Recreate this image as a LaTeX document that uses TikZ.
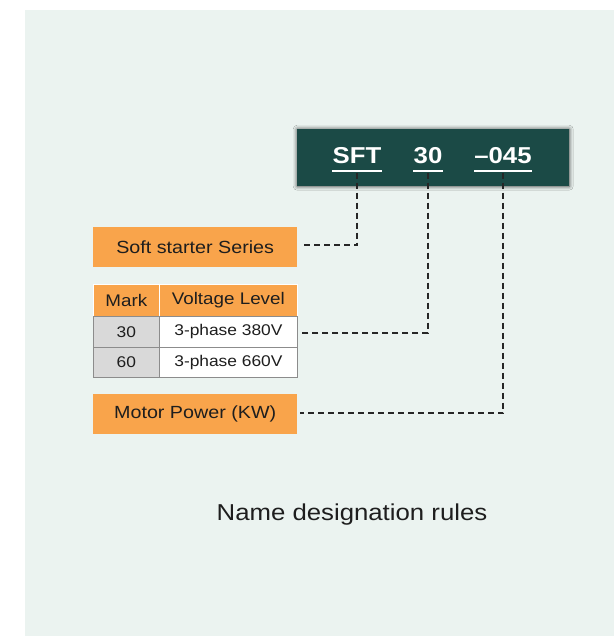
\documentclass[tikz,border=0pt]{standalone}
\usepackage{fontspec}
\setmainfont{Liberation Sans}[FakeStretch=1.12]
\usetikzlibrary{shadows.blur}
\definecolor{bg}{HTML}{EBF3F0}
\definecolor{darkteal}{HTML}{1B4A46}
\definecolor{orng}{HTML}{F9A44B}
\definecolor{cellgray}{HTML}{D9D9D9}
\definecolor{txt}{HTML}{1E1E1E}
\definecolor{gridc}{HTML}{8C8C8C}
\begin{document}
\begin{tikzpicture}[x=1pt,y=-1pt,
  orangebox/.style={fill=orng, minimum width=204pt, minimum height=40pt, inner sep=0pt, anchor=north west, text=txt, font=\fontsize{17.6}{20}\selectfont},
  headcell/.style={fill=orng, draw=white, line width=0.6pt, inner sep=0pt, anchor=north west, text=txt, font=\fontsize{16.8}{19}\selectfont},
  graycell/.style={fill=cellgray, draw=gridc, line width=0.8pt, inner sep=0pt, anchor=north west, text=txt, font=\fontsize{15.5}{18}\selectfont},
  whitecell/.style={fill=white, draw=gridc, line width=0.8pt, inner sep=0pt, anchor=north west, text=txt, font=\fontsize{15.5}{18}\selectfont},
  codetext/.style={text=white, font=\bfseries\fontsize{23}{26}\selectfont, inner sep=0pt, anchor=base},
  uline/.style={draw=white, line width=2pt},
  conn/.style={draw=black!85, line width=1.7pt, dash pattern=on 6pt off 4pt}
]
\useasboundingbox (0,0) rectangle (614,637);
\fill[white] (0,0) rectangle (614,637);
\fill[bg] (25,10) rectangle (614,636);

% dark code box
\node[fill=darkteal, minimum width=272pt, minimum height=57pt, inner sep=0pt, anchor=north west,
  blur shadow={shadow xshift=0pt, shadow yshift=0pt, shadow blur radius=4pt, shadow opacity=75, shadow scale=1.0}] (code) at (297,129) {};
\node[codetext] (sft) at (357,163.5) {SFT};
\node[codetext] (thirty) at (428,163.5) {30};
\node[codetext] (kw) at (503,163.5) {–045};
\draw[uline] ([yshift=-7pt]sft.base west) -- ([yshift=-7pt]sft.base east);
\draw[uline] ([yshift=-7pt]thirty.base west) -- ([yshift=-7pt]thirty.base east);
\draw[uline] ([yshift=-7pt]kw.base west) -- ([yshift=-7pt]kw.base east);
\coordinate (sftd) at ([yshift=-9pt]sft.base);
\coordinate (thirtyd) at ([yshift=-9pt]thirty.base);
\coordinate (kwd) at ([yshift=-9pt]kw.base);

% left boxes
\node[orangebox] (soft) at (93,227) {Soft starter Series};
\node[orangebox] (motor) at (93,394) {Motor Power (KW)};

% table
\node[headcell, minimum width=66pt, minimum height=32pt] (markh) at (93,284) {Mark};
\node[headcell, minimum width=138pt, minimum height=32pt] (volth) at (159,284) {Voltage Level};
\node[graycell, minimum width=66pt, minimum height=31pt] (r1m) at (93,316) {30};
\node[whitecell, minimum width=138pt, minimum height=31pt] (r1v) at (159,316) {3-phase 380V};
\node[graycell, minimum width=66pt, minimum height=30pt] (r2m) at (93,347) {60};
\node[whitecell, minimum width=138pt, minimum height=30pt] (r2v) at (159,347) {3-phase 660V};

% connectors
\draw[conn] (sftd) |- ([xshift=3pt,yshift=2pt]soft.east);
\draw[conn] (thirtyd) |- ([xshift=3pt,yshift=-1pt]r1v.east);
\draw[conn] (kwd) |- ([xshift=3pt,yshift=1pt]motor.east);

% caption
\node[text=txt, font=\fontsize{23}{26}\selectfont, inner sep=0pt] (title) at (352,515) {Name designation rules};
\end{tikzpicture}
\end{document}
